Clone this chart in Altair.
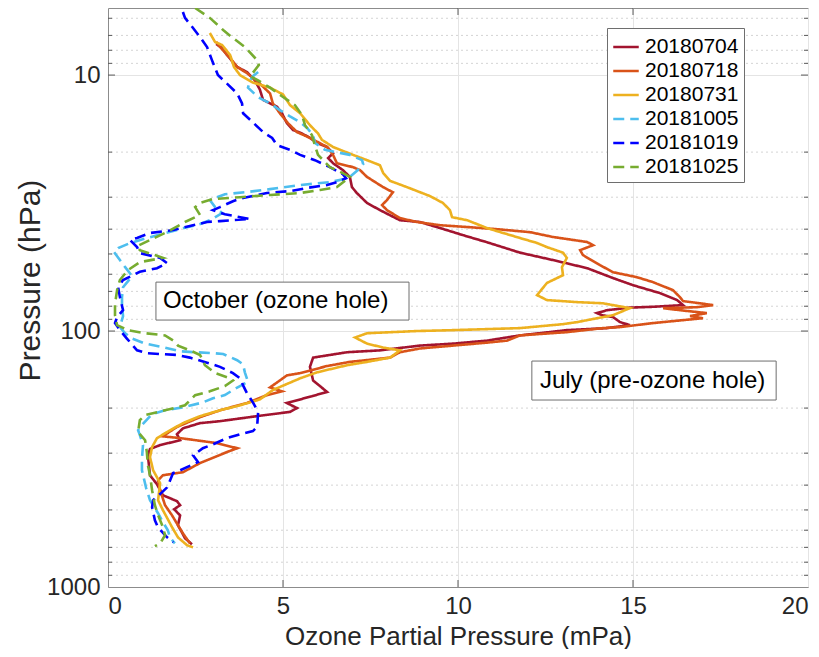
import altair as alt
import pandas as pd

# Ozonesonde profiles: ozone partial pressure (mPa) against pressure (hPa)
series_names = ["20180704", "20180718", "20180731", "20181005", "20181019", "20181025"]
series_colors = ["#A2142F", "#D95319", "#EDB120", "#4DBEEE", "#0000FF", "#77AC30"]

o3_20180704 = [3.09, 3.26, 3.4, 3.69, 3.97, 4.2, 4.34, 4.43, 4.63, 4.83, 4.97, 5.11, 5.29, 5.54, 5.77,
               5.97, 6.26, 6.43, 6.29, 6.43, 6.71, 6.91, 6.97, 7.11, 7.4, 7.77, 8.34, 8.91, 9.49, 10.14,
               10.83, 11.77, 12.71, 13.69, 14.43, 15.0, 15.77, 16.26, 16.43, 15.57, 14.91, 14.26, 13.97,
               14.11, 14.43, 14.63, 14.91, 14.26, 13.11, 11.77, 10.83, 9.86, 8.91, 7.77, 6.83, 5.86, 5.77,
               5.86, 6.26, 5.49, 5.11, 5.4, 5.2, 4.26, 3.2, 2.63, 2.14, 1.97, 2.06, 1.49, 1.2, 1.14, 1.2,
               1.4, 1.57, 1.97, 2.06, 1.89, 2.06, 2.0, 2.11, 2.2, 2.4]
p_20180704 = [7.56, 7.84, 8.35, 9.30, 9.73, 10.5, 11.4, 12.5, 12.9, 13.3, 14.1, 15.4, 16.4, 16.9, 17.6,
              18.4, 19.1, 20.2, 21.1, 22.1, 23.5, 25.0, 27.4, 28.9, 31.6, 33.7, 36.9, 37.5, 39.6, 42.2,
              45.0, 49.4, 52.8, 56.8, 62.1, 66.2, 71.1, 75.7, 79.2, 80.4, 81.0, 82.9, 85.1,
              86.7, 88.2, 92.3, 94.8, 97.4, 99.2, 104, 109, 112, 114, 119, 121, 127, 138,
              156, 173, 185, 191, 200, 207, 215, 225, 229, 240, 253, 267, 279, 289, 306, 366,
              397, 438, 462, 479, 497, 525, 574, 611, 645, 681]

o3_20180718 = [3.09, 3.2, 3.49, 3.69, 3.97, 4.34, 4.63, 4.71, 4.91, 5.14, 5.4, 5.77, 6.26, 6.43, 6.54,
               7.0, 7.2, 7.4, 7.86, 8.14, 7.97, 7.83, 7.97, 8.34, 8.83, 9.49, 10.34, 11.11, 12.06, 12.71,
               13.69, 13.86, 13.49, 13.57, 14.06, 14.43, 15.11, 15.57, 16.14, 16.34, 16.43, 16.91, 17.29,
               16.83, 15.86, 16.34, 17.11, 16.63, 17.0, 15.57, 14.63, 14.14, 13.11, 11.77, 11.4, 10.83,
               9.86, 8.91, 8.34, 8.06, 6.91, 6.26, 5.49, 5.11, 4.91, 4.63, 4.97, 4.54, 3.97, 3.2, 2.63,
               1.97, 1.69, 1.57, 2.06, 3.11, 3.69, 3.4, 2.63, 2.14, 1.57, 1.43, 1.49, 1.63, 1.83, 2.0,
               2.14, 2.34]
p_20180718 = [7.42, 7.77, 8.58, 9.30, 9.82, 10.8, 11.8, 12.9, 14.1, 15.4, 16.7, 17.6, 19.1, 20.5, 22.1,
              22.9, 23.5, 25.0, 27.4, 28.7, 30.8, 32.2, 33.7, 36.2, 37.5, 38.6, 39.3, 40.0, 41.1, 42.9,
              44.9, 46.2, 48.3, 50.5, 55.3, 58.9, 61.6, 64.4, 69.2, 73.7, 76.4, 77.9, 79.2,
              80.7, 81.4, 82.9, 85.1, 87.4, 89.1, 93.1, 96.5, 97.4, 101, 104, 109, 111,
              114, 117, 121, 127, 132, 137, 146, 149, 156, 166, 172, 178, 191, 204, 217,
              237, 251, 258, 262, 274, 287, 297, 328, 356, 366, 383, 419, 479, 525, 574,
              617, 675]

o3_20180731 = [2.91, 3.06, 3.26, 3.49, 3.6, 3.77, 4.14, 4.63, 5.0, 5.2, 5.49, 5.77, 6.0, 6.11, 6.43,
               7.0, 7.4, 7.77, 7.86, 8.06, 8.54, 9.2, 9.57, 9.77, 9.83, 10.26, 10.83, 11.29, 11.77, 12.26,
               12.54, 13.0, 13.11, 12.97, 13.0, 12.54, 12.26, 12.54, 13.4, 14.14, 14.91, 14.43, 13.4,
               13.0, 11.77, 9.86, 8.83, 7.4, 7.06, 7.4, 7.86, 8.34, 8.06, 7.4, 6.83, 5.97, 5.49, 4.71,
               4.34, 3.77, 3.2, 2.63, 2.14, 1.69, 1.4, 1.26, 1.2, 1.29, 1.49, 1.43, 1.57, 1.83, 2.0,
               2.26, 2.43]
p_20180731 = [6.85, 7.43, 7.63, 8.35, 9.30, 10.0, 10.7, 11.2, 11.9, 13.1, 14.1, 15.7, 16.9, 17.9, 19.1,
              20.5, 21.5, 22.5, 24.1, 25.9, 27.4, 29.7, 31.6, 33.7, 35.9, 36.9, 39.6, 41.4, 43.3, 45.3,
              47.0, 49.4, 51.8, 56.3, 60.5, 64.9, 72.4, 75.7, 77.1, 77.9, 81.4, 86.7, 92.3,
              94.0, 97.4, 99.2, 100, 102, 106, 112, 116, 119, 127, 132, 136, 145, 153, 170,
              185, 195, 204, 215, 229, 248, 262, 284, 311, 350, 393, 458, 501, 584, 640,
              687, 700]

o3_20181005 = [4.29, 4.14, 4.06, 4.0, 4.29, 4.63, 4.91, 5.2, 5.49, 5.69, 5.86, 5.91, 6.2, 6.91, 7.26,
               7.29, 7.14, 6.86, 6.34, 5.49, 4.63, 3.91, 3.34, 2.91, 3.06, 3.26, 2.91, 2.63, 2.26, 1.97,
               1.2, 0.63, 0.29, 0.17, 0.34, 0.49, 0.69, 0.43, 0.4, 0.4, 0.43, 0.34, 0.49, 0.69, 1.06,
               1.49, 2.06, 2.49, 3.0, 3.29, 3.69, 3.86, 3.91, 4.0, 3.77, 3.57, 3.34, 3.0, 2.71, 2.2,
               1.63, 1.26, 0.97, 0.86, 0.91, 1.0, 0.97, 0.97, 1.09, 1.2, 1.43, 1.57, 1.71, 1.77, 1.91]
p_20181005 = [9.73, 10.1, 10.5, 11.2, 12.2, 12.9, 13.7, 14.5, 15.3, 16.1, 17.2, 18.4, 19.6, 20.5, 21.5,
              22.3, 23.5, 25.3, 26.2, 26.9, 27.9, 28.7, 29.2, 30.8, 32.8, 34.6, 36.9, 38.2, 39.3, 40.3,
              43.0, 45.3, 47.4, 49.1, 52.8, 56.3, 61.0, 67.4, 73.7, 79.2, 87.5, 96.5, 102, 107, 112,
              115, 120, 121, 122, 123, 130, 135, 145, 158, 164, 170, 178, 183, 190, 198,
              204, 211, 233, 244, 255, 279, 314, 350, 411, 458, 515, 558, 600, 640, 675]

o3_20181019 = [2.14, 2.2, 2.43, 2.63, 2.83, 2.97, 3.14, 3.4, 3.69, 3.83, 3.86, 4.14, 4.43, 4.69, 4.83,
               5.2, 5.49, 5.91, 6.34, 6.71, 6.8, 6.54, 6.26, 5.69, 5.2, 4.54, 3.86, 3.57, 3.2, 3.0,
               3.34, 4.06, 3.2, 2.83, 2.34, 1.86, 1.2, 0.83, 0.63, 0.83, 0.91, 1.49, 1.69, 1.4, 0.91,
               0.43, 0.29, 0.34, 0.43, 0.26, 0.2, 0.34, 0.54, 0.69, 0.83, 1.11, 1.49, 1.97, 2.34, 2.83,
               3.2, 3.57, 3.77, 3.86, 3.97, 4.14, 4.29, 4.26, 4.14, 3.77, 3.4, 3.0, 2.71, 2.43, 2.57,
               2.06, 1.86, 1.69, 1.54, 1.29, 1.26, 1.34, 1.43, 1.69, 1.86]
p_20181019 = [5.67, 5.98, 6.55, 7.11, 7.77, 8.74, 10.0, 10.8, 11.8, 12.9, 14.1, 15.3, 16.7, 17.6, 18.8,
              19.6, 20.5, 21.5, 22.9, 24.4, 25.3, 26.2, 26.9, 27.6, 28.4, 28.9, 30.2, 31.1, 32.8, 33.7,
              35.0, 36.5, 37.2, 37.5, 38.9, 40.3, 41.4, 43.3, 44.1, 47.0, 49.6, 51.8, 54.3, 56.8, 58.7,
              63.2, 67.4, 73.7, 82.9, 88.2, 93.1, 99.2, 107, 113, 119, 122, 123, 124, 127, 133,
              138, 146, 153, 163, 175, 190, 207, 237, 246, 253, 262, 277, 287, 306, 325,
              350, 359, 408, 427, 458, 488, 549, 585, 640, 668]

o3_20181025 = [2.49, 2.91, 3.29, 3.54, 3.91, 4.26, 4.31, 4.2, 4.06, 4.29, 4.63, 4.97, 5.34, 5.54, 5.63,
               5.83, 5.91, 6.0, 6.34, 6.69, 6.91, 6.54, 6.06, 5.49, 4.63, 3.77, 3.0, 2.63, 2.49, 2.63,
               2.2, 1.69, 1.2, 0.83, 0.91, 1.34, 1.57, 0.91, 0.57, 0.34, 0.26, 0.2, 0.2, 0.26, 0.57,
               1.06, 1.63, 1.91, 2.0, 2.34, 2.63, 2.77, 3.06, 3.49, 3.57, 3.34, 2.91, 2.49, 2.2, 1.63,
               1.06, 0.91, 0.86, 1.06, 1.11, 1.14, 1.2, 1.26, 1.34, 1.43, 1.57, 1.63, 1.49, 1.34]
p_20181025 = [5.47, 5.98, 6.67, 7.11, 7.77, 8.74, 9.14, 9.56, 10.1, 10.5, 11.2, 12.1, 13.1, 14.3, 15.7,
              17.2, 18.8, 20.5, 22.9, 24.1, 25.0, 27.4, 28.1, 28.9, 29.4, 30.0, 30.5, 31.6, 32.8, 35.2,
              37.5, 41.0, 44.1, 46.6, 48.3, 50.5, 51.8, 53.8, 57.8, 63.2, 69.2, 78.5, 86.7, 94.8, 99.2,
              102, 104, 110, 114, 119, 124, 136, 146, 153, 156, 164, 172, 178, 195, 204,
              213, 223, 248, 267, 297, 334, 366, 419, 479, 524, 584, 628, 675, 693]

profiles = {
    "20180704": (o3_20180704, p_20180704),
    "20180718": (o3_20180718, p_20180718),
    "20180731": (o3_20180731, p_20180731),
    "20181005": (o3_20181005, p_20181005),
    "20181019": (o3_20181019, p_20181019),
    "20181025": (o3_20181025, p_20181025),
}

x_ticks = [0, 5, 10, 15, 20]
y_ticks = [10, 100, 1000]
y_minor = [6, 7, 8, 9, 20, 30, 40, 50, 60, 70, 80, 90, 200, 300, 400, 500, 600, 700, 800, 900]
y_domain = [5.47, 1000]
x_domain = [0, 20]

notes = [
    {"label": "October (ozone hole)", "x0": 1.37, "x1": 8.6, "y0": 64.4, "y1": 90.6, "tx": 1.57, "ty": 76.4},
    {"label": "July (pre-ozone hole)", "x0": 12.11, "x1": 19.09, "y0": 131, "y1": 186, "tx": 12.34, "ty": 157},
]

rows = []
for name, (o3, pres) in profiles.items():
    assert len(o3) == len(pres), name
    for i, (o, p) in enumerate(zip(o3, pres)):
        rows.append({"series": name, "o3": o, "p": p, "idx": i})
df = pd.DataFrame(rows)

FONT = "Liberation Sans"
TXT = "#262626"
TICK = "#5a5a5a"
W, H = 700, 579

xscale = alt.Scale(domain=x_domain, nice=False, zero=False)
yscale = alt.Scale(type="log", domain=y_domain, reverse=True, nice=False)

x_axis = alt.Axis(values=x_ticks, title="Ozone Partial Pressure (mPa)", grid=True,
                  gridColor="#e4e4e4", ticks=False, labelFontSize=24, titleFontSize=26,
                  labelFont=FONT, titleFont=FONT, labelColor=TXT, titleColor=TXT,
                  titleFontWeight="normal", labelPadding=7, titlePadding=5,
                  domainColor="#8c8c8c")
y_axis = alt.Axis(values=y_ticks, format="d", title="Pressure (hPa)", grid=True,
                  gridColor="#e4e4e4", ticks=False, labelFontSize=24, titleFontSize=30,
                  labelFont=FONT, titleFont=FONT, labelColor=TXT, titleColor=TXT,
                  titleFontWeight="normal", labelPadding=8, titlePadding=1, titleY=272,
                  domainColor="#8c8c8c")

# dotted minor grid at the intermediate pressure levels
minor = alt.Chart(pd.DataFrame({"p": y_minor})).mark_rule(
    color="#d4d4d4", strokeWidth=1, strokeDash=[2, 3]
).encode(y=alt.Y("p:Q", scale=yscale, axis=y_axis))

# inward tick marks on all four sides of the frame
xt = pd.DataFrame({"v": x_ticks[1:-1]})
ticks_bottom = alt.Chart(xt).mark_rule(color=TICK, strokeWidth=1).encode(
    x=alt.X("v:Q", scale=xscale), y=alt.value(H - 7), y2=alt.value(H))
ticks_top = alt.Chart(xt).mark_rule(color=TICK, strokeWidth=1).encode(
    x=alt.X("v:Q", scale=xscale), y=alt.value(0), y2=alt.value(7))
yt = pd.DataFrame({"v": y_ticks[:-1]})
ym = pd.DataFrame({"v": y_minor})
ticks_left = alt.Chart(yt).mark_rule(color=TICK, strokeWidth=1).encode(
    y=alt.Y("v:Q", scale=yscale), x=alt.value(0), x2=alt.value(7))
ticks_right = alt.Chart(yt).mark_rule(color=TICK, strokeWidth=1).encode(
    y=alt.Y("v:Q", scale=yscale), x=alt.value(W - 7), x2=alt.value(W))
mticks_left = alt.Chart(ym).mark_rule(color=TICK, strokeWidth=1).encode(
    y=alt.Y("v:Q", scale=yscale), x=alt.value(0), x2=alt.value(4))
mticks_right = alt.Chart(ym).mark_rule(color=TICK, strokeWidth=1).encode(
    y=alt.Y("v:Q", scale=yscale), x=alt.value(W - 4), x2=alt.value(W))

legend = alt.Legend(
    orient="none", legendX=499, legendY=20, title=None,
    symbolType="M-1,0L1,0", symbolSize=650, symbolStrokeWidth=2.5,
    labelFontSize=21, labelFont=FONT, labelColor="black", labelOffset=5,
    strokeColor="#6e6e6e", fillColor="white", padding=5, rowPadding=0,
)

lines = alt.Chart(df).mark_line(strokeWidth=2.6, clip=True).encode(
    x=alt.X("o3:Q", scale=xscale, axis=x_axis),
    y=alt.Y("p:Q", scale=yscale, axis=y_axis),
    color=alt.Color("series:N", scale=alt.Scale(domain=series_names, range=series_colors), legend=legend),
    strokeDash=alt.StrokeDash("series:N", scale=alt.Scale(
        domain=series_names,
        range=[[1, 0], [1, 0], [1, 0], [11, 6], [11, 6], [11, 6]]), legend=legend),
    order=alt.Order("idx:Q"),
    detail="series:N",
)

note_df = pd.DataFrame(notes)
boxes = alt.Chart(note_df).mark_rect(fill="white", stroke="#6e6e6e", strokeWidth=1).encode(
    x=alt.X("x0:Q", scale=xscale), x2="x1:Q",
    y=alt.Y("y0:Q", scale=yscale), y2="y1:Q",
)
labels = alt.Chart(note_df).mark_text(
    align="left", baseline="middle", font=FONT, fontSize=24, color="black"
).encode(
    x=alt.X("tx:Q", scale=xscale), y=alt.Y("ty:Q", scale=yscale), text="label:N"
)

chart = alt.layer(
    minor, ticks_bottom, ticks_top, ticks_left, ticks_right, mticks_left, mticks_right,
    lines, boxes, labels
).properties(
    width=W, height=H, autosize="none",
    padding={"left": 108, "top": 8, "right": 11, "bottom": 62},
    background="white",
).configure_view(stroke="#8c8c8c", strokeWidth=1)

chart.save("out.html", embed_options={"renderer": "svg", "actions": False})
